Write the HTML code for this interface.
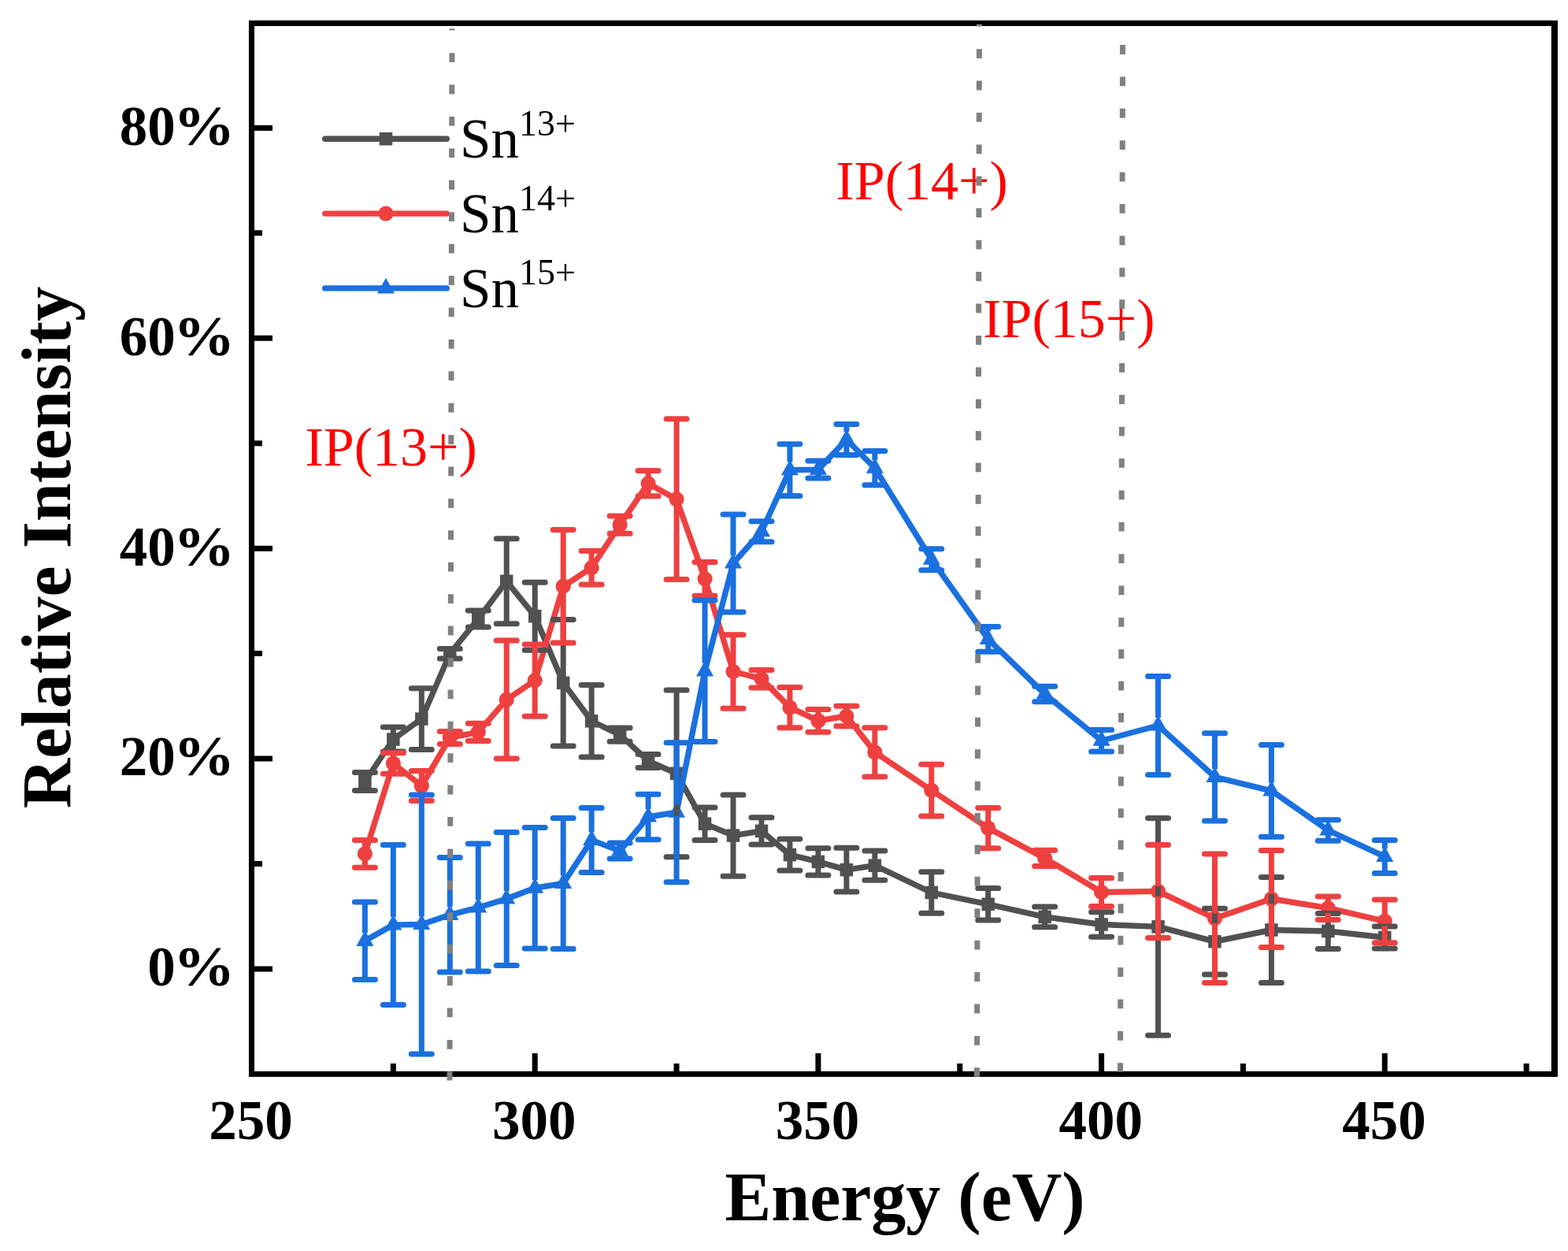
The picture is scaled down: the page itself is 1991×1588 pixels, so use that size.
<!DOCTYPE html>
<html><head><meta charset="utf-8"><title>Relative Intensity vs Energy</title>
<style>html,body{margin:0;padding:0;background:#fff;}svg{display:block;}</style>
</head><body>
<svg width="1991" height="1588" viewBox="0 0 1991 1588">
<rect width="1991" height="1588" fill="#ffffff"/>
<polyline points="463.38,992.00 499.35,938.50 535.32,912.60 571.29,829.70 607.26,785.50 643.23,737.80 679.20,782.20 715.17,866.80 751.14,915.30 787.11,932.60 823.08,966.00 859.05,981.80 895.02,1045.70 930.99,1060.60 966.96,1054.90 1002.93,1085.10 1038.90,1093.90 1074.87,1104.10 1110.84,1098.70 1182.78,1133.00 1254.72,1147.80 1326.66,1163.90 1398.60,1173.50 1470.54,1176.40 1542.48,1195.20 1614.42,1180.50 1686.36,1182.00 1758.30,1190.00" fill="none" stroke="#515151" stroke-width="7.4" stroke-linejoin="round" stroke-linecap="round"/>
<rect x="455.13" y="983.75" width="16.5" height="16.5" fill="#515151"/>
<rect x="491.10" y="930.25" width="16.5" height="16.5" fill="#515151"/>
<rect x="527.07" y="904.35" width="16.5" height="16.5" fill="#515151"/>
<rect x="563.04" y="821.45" width="16.5" height="16.5" fill="#515151"/>
<rect x="599.01" y="777.25" width="16.5" height="16.5" fill="#515151"/>
<rect x="634.98" y="729.55" width="16.5" height="16.5" fill="#515151"/>
<rect x="670.95" y="773.95" width="16.5" height="16.5" fill="#515151"/>
<rect x="706.92" y="858.55" width="16.5" height="16.5" fill="#515151"/>
<rect x="742.89" y="907.05" width="16.5" height="16.5" fill="#515151"/>
<rect x="778.86" y="924.35" width="16.5" height="16.5" fill="#515151"/>
<rect x="814.83" y="957.75" width="16.5" height="16.5" fill="#515151"/>
<rect x="850.80" y="973.55" width="16.5" height="16.5" fill="#515151"/>
<rect x="886.77" y="1037.45" width="16.5" height="16.5" fill="#515151"/>
<rect x="922.74" y="1052.35" width="16.5" height="16.5" fill="#515151"/>
<rect x="958.71" y="1046.65" width="16.5" height="16.5" fill="#515151"/>
<rect x="994.68" y="1076.85" width="16.5" height="16.5" fill="#515151"/>
<rect x="1030.65" y="1085.65" width="16.5" height="16.5" fill="#515151"/>
<rect x="1066.62" y="1095.85" width="16.5" height="16.5" fill="#515151"/>
<rect x="1102.59" y="1090.45" width="16.5" height="16.5" fill="#515151"/>
<rect x="1174.53" y="1124.75" width="16.5" height="16.5" fill="#515151"/>
<rect x="1246.47" y="1139.55" width="16.5" height="16.5" fill="#515151"/>
<rect x="1318.41" y="1155.65" width="16.5" height="16.5" fill="#515151"/>
<rect x="1390.35" y="1165.25" width="16.5" height="16.5" fill="#515151"/>
<rect x="1462.29" y="1168.15" width="16.5" height="16.5" fill="#515151"/>
<rect x="1534.23" y="1186.95" width="16.5" height="16.5" fill="#515151"/>
<rect x="1606.17" y="1172.25" width="16.5" height="16.5" fill="#515151"/>
<rect x="1678.11" y="1173.75" width="16.5" height="16.5" fill="#515151"/>
<rect x="1750.05" y="1181.75" width="16.5" height="16.5" fill="#515151"/>
<polyline points="463.38,1083.80 499.35,969.00 535.32,997.60 571.29,936.40 607.26,929.40 643.23,888.10 679.20,863.70 715.17,744.30 751.14,720.70 787.11,666.10 823.08,613.70 859.05,633.70 895.02,734.80 930.99,852.50 966.96,861.70 1002.93,898.10 1038.90,914.90 1074.87,909.00 1110.84,954.90 1182.78,1003.20 1254.72,1051.10 1326.66,1089.40 1398.60,1132.50 1470.54,1131.40 1542.48,1165.70 1614.42,1141.00 1686.36,1152.70 1758.30,1169.30" fill="none" stroke="#ef4040" stroke-width="7.4" stroke-linejoin="round" stroke-linecap="round"/>
<circle cx="463.38" cy="1083.80" r="9.6" fill="#ef4040"/>
<circle cx="499.35" cy="969.00" r="9.6" fill="#ef4040"/>
<circle cx="535.32" cy="997.60" r="9.6" fill="#ef4040"/>
<circle cx="571.29" cy="936.40" r="9.6" fill="#ef4040"/>
<circle cx="607.26" cy="929.40" r="9.6" fill="#ef4040"/>
<circle cx="643.23" cy="888.10" r="9.6" fill="#ef4040"/>
<circle cx="679.20" cy="863.70" r="9.6" fill="#ef4040"/>
<circle cx="715.17" cy="744.30" r="9.6" fill="#ef4040"/>
<circle cx="751.14" cy="720.70" r="9.6" fill="#ef4040"/>
<circle cx="787.11" cy="666.10" r="9.6" fill="#ef4040"/>
<circle cx="823.08" cy="613.70" r="9.6" fill="#ef4040"/>
<circle cx="859.05" cy="633.70" r="9.6" fill="#ef4040"/>
<circle cx="895.02" cy="734.80" r="9.6" fill="#ef4040"/>
<circle cx="930.99" cy="852.50" r="9.6" fill="#ef4040"/>
<circle cx="966.96" cy="861.70" r="9.6" fill="#ef4040"/>
<circle cx="1002.93" cy="898.10" r="9.6" fill="#ef4040"/>
<circle cx="1038.90" cy="914.90" r="9.6" fill="#ef4040"/>
<circle cx="1074.87" cy="909.00" r="9.6" fill="#ef4040"/>
<circle cx="1110.84" cy="954.90" r="9.6" fill="#ef4040"/>
<circle cx="1182.78" cy="1003.20" r="9.6" fill="#ef4040"/>
<circle cx="1254.72" cy="1051.10" r="9.6" fill="#ef4040"/>
<circle cx="1326.66" cy="1089.40" r="9.6" fill="#ef4040"/>
<circle cx="1398.60" cy="1132.50" r="9.6" fill="#ef4040"/>
<circle cx="1470.54" cy="1131.40" r="9.6" fill="#ef4040"/>
<circle cx="1542.48" cy="1165.70" r="9.6" fill="#ef4040"/>
<circle cx="1614.42" cy="1141.00" r="9.6" fill="#ef4040"/>
<circle cx="1686.36" cy="1152.70" r="9.6" fill="#ef4040"/>
<circle cx="1758.30" cy="1169.30" r="9.6" fill="#ef4040"/>
<polyline points="463.38,1194.30 499.35,1174.00 535.32,1173.50 571.29,1161.30 607.26,1152.00 643.23,1141.00 679.20,1127.20 715.17,1121.50 751.14,1066.50 787.11,1080.10 823.08,1037.00 859.05,1031.20 895.02,851.80 930.99,715.00 966.96,674.70 1002.93,596.60 1038.90,596.10 1074.87,558.00 1110.84,594.20 1182.78,710.20 1254.72,811.30 1326.66,881.00 1398.60,940.20 1470.54,921.00 1542.48,986.30 1614.42,1003.80 1686.36,1054.00 1758.30,1087.40" fill="none" stroke="#1a70de" stroke-width="7.4" stroke-linejoin="round" stroke-linecap="round"/>
<polygon points="463.38,1181.10 474.38,1200.90 452.38,1200.90" fill="#1a70de"/>
<polygon points="499.35,1160.80 510.35,1180.60 488.35,1180.60" fill="#1a70de"/>
<polygon points="535.32,1160.30 546.32,1180.10 524.32,1180.10" fill="#1a70de"/>
<polygon points="571.29,1148.10 582.29,1167.90 560.29,1167.90" fill="#1a70de"/>
<polygon points="607.26,1138.80 618.26,1158.60 596.26,1158.60" fill="#1a70de"/>
<polygon points="643.23,1127.80 654.23,1147.60 632.23,1147.60" fill="#1a70de"/>
<polygon points="679.20,1114.00 690.20,1133.80 668.20,1133.80" fill="#1a70de"/>
<polygon points="715.17,1108.30 726.17,1128.10 704.17,1128.10" fill="#1a70de"/>
<polygon points="751.14,1053.30 762.14,1073.10 740.14,1073.10" fill="#1a70de"/>
<polygon points="787.11,1066.90 798.11,1086.70 776.11,1086.70" fill="#1a70de"/>
<polygon points="823.08,1023.80 834.08,1043.60 812.08,1043.60" fill="#1a70de"/>
<polygon points="859.05,1018.00 870.05,1037.80 848.05,1037.80" fill="#1a70de"/>
<polygon points="895.02,838.60 906.02,858.40 884.02,858.40" fill="#1a70de"/>
<polygon points="930.99,701.80 941.99,721.60 919.99,721.60" fill="#1a70de"/>
<polygon points="966.96,661.50 977.96,681.30 955.96,681.30" fill="#1a70de"/>
<polygon points="1002.93,583.40 1013.93,603.20 991.93,603.20" fill="#1a70de"/>
<polygon points="1038.90,582.90 1049.90,602.70 1027.90,602.70" fill="#1a70de"/>
<polygon points="1074.87,544.80 1085.87,564.60 1063.87,564.60" fill="#1a70de"/>
<polygon points="1110.84,581.00 1121.84,600.80 1099.84,600.80" fill="#1a70de"/>
<polygon points="1182.78,697.00 1193.78,716.80 1171.78,716.80" fill="#1a70de"/>
<polygon points="1254.72,798.10 1265.72,817.90 1243.72,817.90" fill="#1a70de"/>
<polygon points="1326.66,867.80 1337.66,887.60 1315.66,887.60" fill="#1a70de"/>
<polygon points="1398.60,927.00 1409.60,946.80 1387.60,946.80" fill="#1a70de"/>
<polygon points="1470.54,907.80 1481.54,927.60 1459.54,927.60" fill="#1a70de"/>
<polygon points="1542.48,973.10 1553.48,992.90 1531.48,992.90" fill="#1a70de"/>
<polygon points="1614.42,990.60 1625.42,1010.40 1603.42,1010.40" fill="#1a70de"/>
<polygon points="1686.36,1040.80 1697.36,1060.60 1675.36,1060.60" fill="#1a70de"/>
<polygon points="1758.30,1074.20 1769.30,1094.00 1747.30,1094.00" fill="#1a70de"/>
<path d="M463.38,980.50V985.70M463.38,998.30V1003.50M499.35,923.10V932.20M499.35,944.80V953.90M535.32,873.80V906.30M535.32,918.90V951.40M607.26,775.00V779.20M607.26,791.80V796.00M643.23,683.80V731.50M643.23,744.10V791.80M679.20,739.20V775.90M679.20,788.50V825.20M715.17,786.50V860.50M715.17,873.10V947.10M751.14,869.50V909.00M751.14,921.60V961.10M787.11,924.00V926.30M787.11,938.90V941.20M823.08,957.40V959.70M823.08,972.30V974.60M859.05,875.90V975.50M859.05,988.10V1087.70M895.02,1025.00V1039.40M895.02,1052.00V1066.40M930.99,1009.00V1054.30M930.99,1066.90V1112.20M966.96,1037.80V1048.60M966.96,1061.20V1072.00M1002.93,1065.10V1078.80M1002.93,1091.40V1105.10M1038.90,1076.80V1087.60M1038.90,1100.20V1111.00M1074.87,1076.20V1097.80M1074.87,1110.40V1132.00M1110.84,1080.10V1092.40M1110.84,1105.00V1117.30M1182.78,1106.70V1126.70M1182.78,1139.30V1159.30M1254.72,1127.50V1141.50M1254.72,1154.10V1168.10M1326.66,1151.00V1157.60M1326.66,1170.20V1176.80M1398.60,1157.70V1167.20M1398.60,1179.80V1189.30M1470.54,1038.50V1170.10M1470.54,1182.70V1314.30M1542.48,1153.30V1188.90M1542.48,1201.50V1237.10M1614.42,1113.60V1174.20M1614.42,1186.80V1247.40M1686.36,1159.50V1175.70M1686.36,1188.30V1204.50M1758.30,1176.10V1183.70M1758.30,1196.30V1203.90" fill="none" stroke="#515151" stroke-width="7"/>
<path d="M450.38,980.50H476.38M450.38,1003.50H476.38M486.35,923.10H512.35M486.35,953.90H512.35M522.32,873.80H548.32M522.32,951.40H548.32M558.29,823.50H584.29M558.29,835.90H584.29M594.26,775.00H620.26M594.26,796.00H620.26M630.23,683.80H656.23M630.23,791.80H656.23M666.20,739.20H692.20M666.20,825.20H692.20M702.17,786.50H728.17M702.17,947.10H728.17M738.14,869.50H764.14M738.14,961.10H764.14M774.11,924.00H800.11M774.11,941.20H800.11M810.08,957.40H836.08M810.08,974.60H836.08M846.05,875.90H872.05M846.05,1087.70H872.05M882.02,1025.00H908.02M882.02,1066.40H908.02M917.99,1009.00H943.99M917.99,1112.20H943.99M953.96,1037.80H979.96M953.96,1072.00H979.96M989.93,1065.10H1015.93M989.93,1105.10H1015.93M1025.90,1076.80H1051.90M1025.90,1111.00H1051.90M1061.87,1076.20H1087.87M1061.87,1132.00H1087.87M1097.84,1080.10H1123.84M1097.84,1117.30H1123.84M1169.78,1106.70H1195.78M1169.78,1159.30H1195.78M1241.72,1127.50H1267.72M1241.72,1168.10H1267.72M1313.66,1151.00H1339.66M1313.66,1176.80H1339.66M1385.60,1157.70H1411.60M1385.60,1189.30H1411.60M1457.54,1038.50H1483.54M1457.54,1314.30H1483.54M1529.48,1153.30H1555.48M1529.48,1237.10H1555.48M1601.42,1113.60H1627.42M1601.42,1247.40H1627.42M1673.36,1159.50H1699.36M1673.36,1204.50H1699.36M1745.30,1176.10H1771.30M1745.30,1203.90H1771.30" fill="none" stroke="#515151" stroke-width="7" stroke-linecap="round"/>
<path d="M463.38,1066.40V1077.50M463.38,1090.10V1101.20M499.35,955.80V962.70M499.35,975.30V982.20M535.32,978.60V991.30M535.32,1003.90V1016.60M571.29,928.40V930.10M571.29,942.70V944.40M607.26,918.30V923.10M607.26,935.70V940.50M643.23,813.10V881.80M643.23,894.40V963.10M679.20,818.10V857.40M679.20,870.00V909.30M715.17,672.50V738.00M715.17,750.60V816.10M751.14,699.30V714.40M751.14,727.00V742.10M787.11,655.00V659.80M787.11,672.40V677.20M823.08,597.60V607.40M823.08,620.00V629.80M859.05,531.80V627.40M859.05,640.00V735.60M895.02,713.40V728.50M895.02,741.10V756.20M930.99,805.80V846.20M930.99,858.80V899.20M966.96,850.50V855.40M966.96,868.00V872.90M1002.93,872.50V891.80M1002.93,904.40V923.70M1038.90,900.60V908.60M1038.90,921.20V929.20M1074.87,896.30V902.70M1074.87,915.30V921.70M1110.84,923.70V948.60M1110.84,961.20V986.10M1182.78,970.30V996.90M1182.78,1009.50V1036.10M1254.72,1025.40V1044.80M1254.72,1057.40V1076.80M1326.66,1079.20V1083.10M1326.66,1095.70V1099.60M1398.60,1114.50V1126.20M1398.60,1138.80V1150.50M1470.54,1072.40V1125.10M1470.54,1137.70V1190.40M1542.48,1084.00V1159.40M1542.48,1172.00V1247.40M1614.42,1079.50V1134.70M1614.42,1147.30V1202.50M1686.36,1138.00V1146.40M1686.36,1159.00V1167.40M1758.30,1141.90V1163.00M1758.30,1175.60V1196.70" fill="none" stroke="#ef4040" stroke-width="7"/>
<path d="M450.38,1066.40H476.38M450.38,1101.20H476.38M486.35,955.80H512.35M486.35,982.20H512.35M522.32,978.60H548.32M522.32,1016.60H548.32M558.29,928.40H584.29M558.29,944.40H584.29M594.26,918.30H620.26M594.26,940.50H620.26M630.23,813.10H656.23M630.23,963.10H656.23M666.20,818.10H692.20M666.20,909.30H692.20M702.17,672.50H728.17M702.17,816.10H728.17M738.14,699.30H764.14M738.14,742.10H764.14M774.11,655.00H800.11M774.11,677.20H800.11M810.08,597.60H836.08M810.08,629.80H836.08M846.05,531.80H872.05M846.05,735.60H872.05M882.02,713.40H908.02M882.02,756.20H908.02M917.99,805.80H943.99M917.99,899.20H943.99M953.96,850.50H979.96M953.96,872.90H979.96M989.93,872.50H1015.93M989.93,923.70H1015.93M1025.90,900.60H1051.90M1025.90,929.20H1051.90M1061.87,896.30H1087.87M1061.87,921.70H1087.87M1097.84,923.70H1123.84M1097.84,986.10H1123.84M1169.78,970.30H1195.78M1169.78,1036.10H1195.78M1241.72,1025.40H1267.72M1241.72,1076.80H1267.72M1313.66,1079.20H1339.66M1313.66,1099.60H1339.66M1385.60,1114.50H1411.60M1385.60,1150.50H1411.60M1457.54,1072.40H1483.54M1457.54,1190.40H1483.54M1529.48,1084.00H1555.48M1529.48,1247.40H1555.48M1601.42,1079.50H1627.42M1601.42,1202.50H1627.42M1673.36,1138.00H1699.36M1673.36,1167.40H1699.36M1745.30,1141.90H1771.30M1745.30,1196.70H1771.30" fill="none" stroke="#ef4040" stroke-width="7" stroke-linecap="round"/>
<path d="M463.38,1145.10V1184.30M463.38,1198.70V1243.50M499.35,1072.60V1164.00M499.35,1178.40V1275.40M535.32,1009.10V1163.50M535.32,1177.90V1337.90M571.29,1088.50V1151.30M571.29,1165.70V1234.10M607.26,1070.90V1142.00M607.26,1156.40V1233.10M643.23,1056.40V1131.00M643.23,1145.40V1225.60M679.20,1050.40V1117.20M679.20,1131.60V1204.00M715.17,1038.60V1111.50M715.17,1125.90V1204.40M751.14,1025.50V1056.50M751.14,1070.90V1107.50M787.11,1084.50V1090.10M823.08,1008.30V1027.00M823.08,1041.40V1065.70M859.05,942.70V1021.20M859.05,1035.60V1119.70M895.02,762.10V841.80M895.02,856.20V941.50M930.99,653.00V705.00M930.99,719.40V777.00M966.96,661.70V664.70M966.96,679.10V687.70M1002.93,563.80V586.60M1002.93,601.00V629.40M1038.90,585.10V586.10M1038.90,600.50V607.10M1074.87,538.60V548.00M1074.87,562.40V577.40M1110.84,572.60V584.20M1110.84,598.60V615.80M1182.78,696.70V700.20M1182.78,714.60V723.70M1254.72,795.40V801.30M1254.72,815.70V827.20M1326.66,885.40V890.70M1398.60,926.50V930.20M1398.60,944.60V953.90M1470.54,858.50V911.00M1470.54,925.40V983.50M1542.48,930.70V976.30M1542.48,990.70V1041.90M1614.42,945.40V993.80M1614.42,1008.20V1062.20M1686.36,1040.80V1044.00M1686.36,1058.40V1067.20M1758.30,1066.40V1077.40M1758.30,1091.80V1108.40" fill="none" stroke="#1a70de" stroke-width="7"/>
<path d="M450.38,1145.10H476.38M450.38,1243.50H476.38M486.35,1072.60H512.35M486.35,1275.40H512.35M522.32,1009.10H548.32M522.32,1337.90H548.32M558.29,1088.50H584.29M558.29,1234.10H584.29M594.26,1070.90H620.26M594.26,1233.10H620.26M630.23,1056.40H656.23M630.23,1225.60H656.23M666.20,1050.40H692.20M666.20,1204.00H692.20M702.17,1038.60H728.17M702.17,1204.40H728.17M738.14,1025.50H764.14M738.14,1107.50H764.14M774.11,1070.10H800.11M774.11,1090.10H800.11M810.08,1008.30H836.08M810.08,1065.70H836.08M846.05,942.70H872.05M846.05,1119.70H872.05M882.02,762.10H908.02M882.02,941.50H908.02M917.99,653.00H943.99M917.99,777.00H943.99M953.96,661.70H979.96M953.96,687.70H979.96M989.93,563.80H1015.93M989.93,629.40H1015.93M1025.90,585.10H1051.90M1025.90,607.10H1051.90M1061.87,538.60H1087.87M1061.87,577.40H1087.87M1097.84,572.60H1123.84M1097.84,615.80H1123.84M1169.78,696.70H1195.78M1169.78,723.70H1195.78M1241.72,795.40H1267.72M1241.72,827.20H1267.72M1313.66,871.30H1339.66M1313.66,890.70H1339.66M1385.60,926.50H1411.60M1385.60,953.90H1411.60M1457.54,858.50H1483.54M1457.54,983.50H1483.54M1529.48,930.70H1555.48M1529.48,1041.90H1555.48M1601.42,945.40H1627.42M1601.42,1062.20H1627.42M1673.36,1040.80H1699.36M1673.36,1067.20H1699.36M1745.30,1066.40H1771.30M1745.30,1108.40H1771.30" fill="none" stroke="#1a70de" stroke-width="7" stroke-linecap="round"/>
<path d="M319.50,1229.90H346M319.50,963.02H346M319.50,696.14H346M319.50,429.26H346M319.50,162.38H346M319.50,1096.46H333M319.50,829.58H333M319.50,562.70H333M319.50,295.82H333M679.20,1363.40V1337M1038.90,1363.40V1337M1398.60,1363.40V1337M1758.30,1363.40V1337M499.35,1363.40V1350M859.05,1363.40V1350M1218.75,1363.40V1350M1578.45,1363.40V1350M1938.15,1363.40V1350" stroke="#000" stroke-width="7" fill="none"/>
<rect x="319.5" y="29.5" width="1654.5" height="1333.9" fill="none" stroke="#000" stroke-width="7.1"/>
<rect x="1969.8" y="26" width="8.1" height="1341" fill="#000"/>
<text x="318.60" y="1446.2" text-anchor="middle" style="font-family:'Liberation Serif','Times New Roman',serif;font-weight:bold;font-size:71px">250</text>
<text x="678.30" y="1446.2" text-anchor="middle" style="font-family:'Liberation Serif','Times New Roman',serif;font-weight:bold;font-size:71px">300</text>
<text x="1038.00" y="1446.2" text-anchor="middle" style="font-family:'Liberation Serif','Times New Roman',serif;font-weight:bold;font-size:71px">350</text>
<text x="1397.70" y="1446.2" text-anchor="middle" style="font-family:'Liberation Serif','Times New Roman',serif;font-weight:bold;font-size:71px">400</text>
<text x="1757.40" y="1446.2" text-anchor="middle" style="font-family:'Liberation Serif','Times New Roman',serif;font-weight:bold;font-size:71px">450</text>
<text x="222.8" y="1251.30" text-anchor="end" style="font-family:'Liberation Serif','Times New Roman',serif;font-weight:bold;font-size:71px">0</text>
<text transform="translate(219.95,1251.30) scale(1.103,1)" style="font-family:'Liberation Serif','Times New Roman',serif;font-weight:bold;font-size:71px">%</text>
<text x="222.8" y="984.42" text-anchor="end" style="font-family:'Liberation Serif','Times New Roman',serif;font-weight:bold;font-size:71px">20</text>
<text transform="translate(219.95,984.42) scale(1.103,1)" style="font-family:'Liberation Serif','Times New Roman',serif;font-weight:bold;font-size:71px">%</text>
<text x="222.8" y="717.54" text-anchor="end" style="font-family:'Liberation Serif','Times New Roman',serif;font-weight:bold;font-size:71px">40</text>
<text transform="translate(219.95,717.54) scale(1.103,1)" style="font-family:'Liberation Serif','Times New Roman',serif;font-weight:bold;font-size:71px">%</text>
<text x="222.8" y="450.66" text-anchor="end" style="font-family:'Liberation Serif','Times New Roman',serif;font-weight:bold;font-size:71px">60</text>
<text transform="translate(219.95,450.66) scale(1.103,1)" style="font-family:'Liberation Serif','Times New Roman',serif;font-weight:bold;font-size:71px">%</text>
<text x="222.8" y="183.78" text-anchor="end" style="font-family:'Liberation Serif','Times New Roman',serif;font-weight:bold;font-size:71px">80</text>
<text transform="translate(219.95,183.78) scale(1.103,1)" style="font-family:'Liberation Serif','Times New Roman',serif;font-weight:bold;font-size:71px">%</text>
<text x="920.6" y="1549.1" style="font-family:'Liberation Serif','Times New Roman',serif;font-weight:bold;font-size:88px">Energy (eV)</text>
<text transform="translate(89,1026.2) rotate(-90)" x="0" y="0" style="font-family:'Liberation Serif','Times New Roman',serif;font-weight:bold;font-size:88px">Relative Intensity</text>
<path d="M412.7,176.30H567.3" stroke="#515151" stroke-width="7.4" stroke-linecap="round"/>
<rect x="481.75" y="168.05" width="16.5" height="16.5" fill="#515151"/>
<text x="584" y="200.00" style="font-family:'Liberation Serif','Times New Roman',serif;font-size:71px">Sn</text>
<text x="658.9" y="171.70" style="font-family:'Liberation Serif','Times New Roman',serif;font-size:46px">13+</text>
<path d="M412.7,271.10H567.3" stroke="#ef4040" stroke-width="7.4" stroke-linecap="round"/>
<circle cx="490.00" cy="271.10" r="9.6" fill="#ef4040"/>
<text x="584" y="294.80" style="font-family:'Liberation Serif','Times New Roman',serif;font-size:71px">Sn</text>
<text x="658.9" y="266.50" style="font-family:'Liberation Serif','Times New Roman',serif;font-size:46px">14+</text>
<path d="M412.7,365.90H567.3" stroke="#1a70de" stroke-width="7.4" stroke-linecap="round"/>
<polygon points="490.00,352.70 501.00,372.50 479.00,372.50" fill="#1a70de"/>
<text x="584" y="389.60" style="font-family:'Liberation Serif','Times New Roman',serif;font-size:71px">Sn</text>
<text x="658.9" y="361.30" style="font-family:'Liberation Serif','Times New Roman',serif;font-size:46px">15+</text>
<text x="387.4" y="590.9" fill="#ff0000" style="font-family:'Liberation Serif','Times New Roman',serif;font-size:70px">IP(13+)</text>
<text x="1061.4" y="252.7" fill="#ff0000" style="font-family:'Liberation Serif','Times New Roman',serif;font-size:70px">IP(14+)</text>
<text x="1248.3" y="427.9" fill="#ff0000" style="font-family:'Liberation Serif','Times New Roman',serif;font-size:70px">IP(15+)</text>
<path d="M574.00,36.20L573.99,38.59M573.93,67.20L573.90,79.00M573.84,107.61L573.81,119.41M573.75,148.02L573.72,159.82M573.66,188.43L573.63,200.23M573.57,228.84L573.54,240.64M573.48,269.25L573.45,281.05M573.39,309.66L573.36,321.46M573.29,350.07L573.27,361.87M573.20,390.48L573.18,402.28M573.11,430.89L573.09,442.69M573.02,471.30L573.00,483.10M572.93,511.71L572.90,523.51M572.84,552.12L572.81,563.92M572.75,592.53L572.72,604.33M572.66,632.94L572.63,644.74M572.57,673.35L572.54,685.15M572.48,713.76L572.45,725.56M572.39,754.17L572.36,765.97M572.30,794.58L572.27,806.38M572.21,834.99L572.18,846.79M572.11,875.40L572.09,887.20M572.02,915.81L572.00,927.61M571.93,956.22L571.91,968.02M571.84,996.63L571.82,1008.43M571.75,1037.04L571.72,1048.84M571.66,1077.45L571.63,1089.25M571.57,1117.86L571.54,1129.66M571.48,1158.27L571.45,1170.07M571.39,1198.68L571.36,1210.48M571.30,1239.09L571.27,1250.89M571.21,1279.50L571.18,1291.30M571.12,1319.91L571.09,1331.71M571.03,1360.32L571.00,1371.60" fill="none" stroke="#808080" stroke-width="7"/>
<path d="M1243.50,30.80L1243.49,33.59M1243.43,62.20L1243.40,74.00M1243.34,102.61L1243.31,114.41M1243.25,143.02L1243.22,154.82M1243.16,183.43L1243.13,195.23M1243.06,223.84L1243.04,235.64M1242.97,264.25L1242.95,276.05M1242.88,304.66L1242.86,316.46M1242.79,345.07L1242.77,356.87M1242.70,385.48L1242.68,397.28M1242.61,425.89L1242.59,437.69M1242.52,466.30L1242.49,478.10M1242.43,506.71L1242.40,518.51M1242.34,547.12L1242.31,558.92M1242.25,587.53L1242.22,599.33M1242.16,627.94L1242.13,639.74M1242.07,668.35L1242.04,680.15M1241.98,708.76L1241.95,720.56M1241.89,749.17L1241.86,760.97M1241.80,789.58L1241.77,801.38M1241.70,829.99L1241.68,841.79M1241.61,870.40L1241.59,882.20M1241.52,910.81L1241.50,922.61M1241.43,951.22L1241.41,963.02M1241.34,991.63L1241.32,1003.43M1241.25,1032.04L1241.22,1043.84M1241.16,1072.45L1241.13,1084.25M1241.07,1112.86L1241.04,1124.66M1240.98,1153.27L1240.95,1165.07M1240.89,1193.68L1240.86,1205.48M1240.80,1234.09L1240.77,1245.89M1240.71,1274.50L1240.68,1286.30M1240.62,1314.91L1240.59,1326.71M1240.53,1355.32L1240.50,1366.80" fill="none" stroke="#808080" stroke-width="7"/>
<path d="M1425.54,57.10L1425.51,68.90M1425.44,97.48L1425.42,109.28M1425.35,137.86L1425.32,149.66M1425.25,178.24L1425.23,190.04M1425.16,218.62L1425.13,230.42M1425.07,259.00L1425.04,270.80M1424.97,299.38L1424.95,311.18M1424.88,339.76L1424.85,351.56M1424.78,380.14L1424.76,391.94M1424.69,420.52L1424.66,432.32M1424.60,460.90L1424.57,472.70M1424.50,501.28L1424.47,513.08M1424.41,541.66L1424.38,553.46M1424.31,582.04L1424.29,593.84M1424.22,622.42L1424.19,634.22M1424.13,662.80L1424.10,674.60M1424.03,703.18L1424.00,714.98M1423.94,743.56L1423.91,755.36M1423.84,783.94L1423.82,795.74M1423.75,824.32L1423.72,836.12M1423.66,864.70L1423.63,876.50M1423.56,905.08L1423.53,916.88M1423.47,945.46L1423.44,957.26M1423.37,985.84L1423.35,997.64M1423.28,1026.22L1423.25,1038.02M1423.19,1066.60L1423.16,1078.40M1423.09,1106.98L1423.06,1118.78M1423.00,1147.36L1422.97,1159.16M1422.90,1187.74L1422.88,1199.54M1422.81,1228.12L1422.78,1239.92M1422.72,1268.50L1422.69,1280.30M1422.62,1308.88L1422.59,1320.68M1422.53,1349.26L1422.50,1360.80" fill="none" stroke="#808080" stroke-width="7"/>
</svg>
</body></html>
